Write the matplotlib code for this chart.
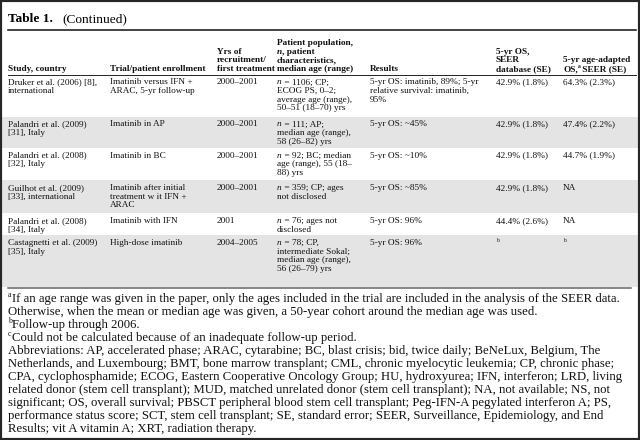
import re

import matplotlib
matplotlib.use('Agg')
import matplotlib.pyplot as plt
from matplotlib.patches import Rectangle

# Times-like serif for the whole table
plt.rcParams['font.family'] = ['Liberation Serif', 'DejaVu Serif']

# Table content
###############################################################################
# markup: *n* = italic n, ^a^ = superscript a

title_bold = 'Table 1.'
title_rest = '(Continued)'

headers = [
    ['Study, country'],
    ['Trial/patient enrollment'],
    ['Yrs of', 'recruitment/', 'first treatment'],
    ['Patient population,', '*n*, patient', 'characteristics,',
     'median age (range)'],
    ['Results'],
    ['5-yr OS,', 'SEER', 'database (SE)'],
    ['5-yr age-adapted', 'OS,^a^ SEER (SE)'],
]

studies = [
    ['Druker et al. (2006) [8],', 'international'],
    ['Palandri et al. (2009)', '[31], Italy'],
    ['Palandri et al. (2008)', '[32], Italy'],
    ['Guilhot et al. (2009)', '[33], international'],
    ['Palandri et al. (2008)', '[34], Italy'],
    ['Castagnetti et al. (2009)', '[35], Italy'],
]

trials = [
    ['Imatinib versus IFN +', 'ARAC, 5-yr follow-up'],
    ['Imatinib in AP'],
    ['Imatinib in BC'],
    ['Imatinib after initial', 'treatment w it IFN +', 'ARAC'],
    ['Imatinib with IFN'],
    ['High-dose imatinib'],
]

years = [['2000–2001'], ['2000–2001'], ['2000–2001'], ['2000–2001'],
         ['2001'], ['2004–2005']]

population = [
    ['*n* = 1106; CP;', 'ECOG PS, 0–2;', 'average age (range),',
     '50–51 (18–70) yrs'],
    ['*n* = 111; AP;', 'median age (range),', '58 (26–82) yrs'],
    ['*n* = 92; BC; median', 'age (range), 55 (18–', '88) yrs'],
    ['*n* = 359; CP; ages', 'not disclosed'],
    ['*n* = 76; ages not', 'disclosed'],
    ['*n* = 78; CP,', 'intermediate Sokal;', 'median age (range),',
     '56 (26–79) yrs'],
]

results = [
    ['5-yr OS: imatinib, 89%; 5-yr', 'relative survival: imatinib,', '95%'],
    ['5-yr OS: ~45%'],
    ['5-yr OS: ~10%'],
    ['5-yr OS: ~85%'],
    ['5-yr OS: 96%'],
    ['5-yr OS: 96%'],
]

seer_os = [['42.9% (1.8%)'], ['42.9% (1.8%)'], ['42.9% (1.8%)'],
           ['42.9% (1.8%)'], ['44.4% (2.6%)'], ['^b^']]

age_adapted = [['64.3% (2.3%)'], ['47.4% (2.2%)'], ['44.7% (1.9%)'],
               ['NA'], ['NA'], ['^b^']]

footnotes = [
    '^a^If an age range was given in the paper, only the ages '
    'included in the trial are included in the analysis of the SEER data.',
    'Otherwise, when the mean or median age was given, a 50-year cohort '
    'around the median age was used.',
    '^b^Follow-up through 2006.',
    '^c^Could not be calculated because of an inadequate '
    'follow-up period.',
    'Abbreviations: AP, accelerated phase; ARAC, cytarabine; BC, blast '
    'crisis; bid, twice daily; BeNeLux, Belgium, The',
    'Netherlands, and Luxembourg; BMT, bone marrow transplant; CML, chronic '
    'myelocytic leukemia; CP, chronic phase;',
    'CPA, cyclophosphamide; ECOG, Eastern Cooperative Oncology Group; HU, '
    'hydroxyurea; IFN, interferon; LRD, living',
    'related donor (stem cell transplant); MUD, matched unrelated donor '
    '(stem cell transplant); NA, not available; NS, not',
    'significant; OS, overall survival; PBSCT peripheral blood stem cell '
    'transplant; Peg-IFN-A pegylated interferon A; PS,',
    'performance status score; SCT, stem cell transplant; SE, standard '
    'error; SEER, Surveillance, Epidemiology, and End',
    'Results; vit A vitamin A; XRT, radiation therapy.',
]

# Layout (pixels)
###############################################################################

col_x = [8, 110, 217, 277, 370, 496, 563]
row_h = [42, 31, 32.5, 33, 22, 51.5]
body_size = 6.7
line_h = 8.6
header_base = 71
header_rule = 75
foot_size = 9.15
foot_h = 13.0
shade = '#e4e4e4'
ink = '#111111'

fig = plt.figure(figsize=(6.4, 4.4), dpi=100)
ax = fig.add_axes([0, 0, 1, 1])
ax.set_xlim(0, 640)
ax.set_ylim(440, 0)
ax.axis('off')
renderer = fig.canvas.get_renderer()


def draw_line(x, y, s, size, weight='normal'):
    """Draw one line of text, handling italic n and superscripts."""
    for part in re.split(r'(\*n\*|\^\w\^)', s):
        if not part:
            continue
        if part == '*n*':
            t = ax.text(x, y, 'n', fontsize=size, fontstyle='italic',
                        fontweight=weight, va='baseline', color=ink)
        elif part.startswith('^'):
            t = ax.text(x, y - size * 0.5, part[1:-1], fontsize=size * 0.62,
                        fontweight=weight, va='baseline', color=ink)
        else:
            t = ax.text(x, y, part, fontsize=size, fontweight=weight,
                        va='baseline', color=ink)
        x += t.get_window_extent(renderer).width


# Title
ax.text(8, 22, title_bold, fontsize=9.6, fontweight='bold', va='baseline')
ax.text(62, 22, title_rest, fontsize=9.6, va='baseline')
ax.plot([8, 636], [30, 30], color='#111111', lw=1.1)

# Header (bottom aligned)
for x, lines in zip(col_x, headers):
    n = len(lines)
    for k, s in enumerate(lines):
        draw_line(x, header_base - (n - 1 - k) * line_h, s, body_size,
                  weight='bold')
ax.plot([8, 636], [header_rule, header_rule], color='#222222', lw=0.7)

# Body rows
columns = [studies, trials, years, population, results, seer_os, age_adapted]
top = header_rule
for i, h in enumerate(row_h):
    if i % 2 == 1:
        ax.add_patch(Rectangle((2, top), 636, h, color=shade, lw=0, zorder=0))
    for x, col in zip(col_x, columns):
        for k, s in enumerate(col[i]):
            draw_line(x, top + 9.5 + k * line_h, s, body_size)
    top += h

ax.plot([8, 631], [top + 1.2, top + 1.2], color='#666666', lw=1.1)

# Footnotes
for k, s in enumerate(footnotes):
    draw_line(8, top + 15 + k * foot_h, s, foot_size)

# Dark frame round the image
fig.patches.append(Rectangle((0, 0), 1, 1, transform=fig.transFigure,
                             fill=False, edgecolor='#262626', lw=3.0))

fig.savefig('out.png', dpi=100)
